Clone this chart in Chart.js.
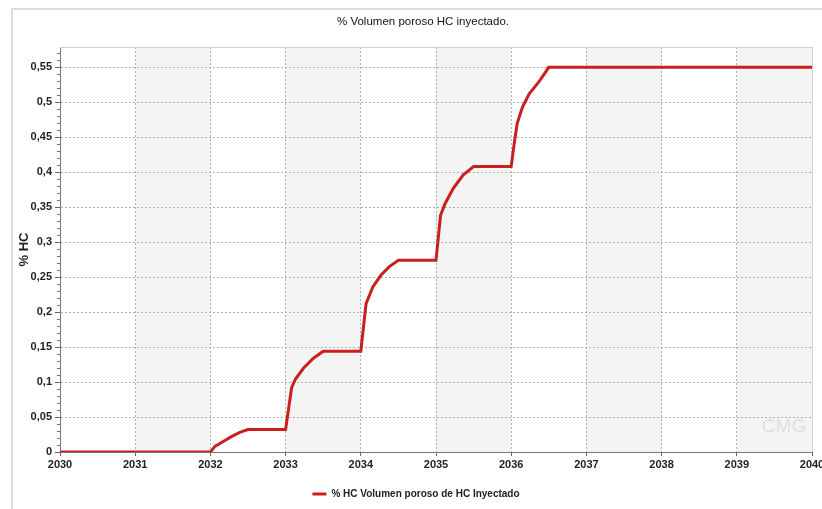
<!DOCTYPE html>
<html>
<head>
<meta charset="utf-8">
<script src="https://cdn.jsdelivr.net/npm/chart.js@4/dist/chart.umd.min.js"></script>
<style>
  html, body { margin: 0; padding: 0; background: #fff; overflow: hidden; }
  #wrap { position: relative; width: 822px; height: 509px; overflow: hidden; }
  #frame { position: absolute; left: 11px; top: 8px; width: 900px; height: 600px;
           border-left: 2px solid #dcdcdc; border-top: 2px solid #dcdcdc; }
  #c { position: absolute; left: 0; top: 0; }
</style>
</head>
<body>
<div id="wrap">
  <div id="frame"></div>
  <canvas id="c" width="840" height="509"></canvas>
</div>
<script>
// % HC Volumen poroso inyectado, 2030-2040
const TITLE = "% Volumen poroso HC inyectado.";
const SERIES_LABEL = "% HC Volumen poroso de HC Inyectado";
const Y_TITLE = "% HC";

const years = [2030, 2032, 2032.06, 2032.17, 2032.28, 2032.39, 2032.5,
  2033, 2033.08, 2033.13, 2033.24, 2033.37, 2033.5,
  2034, 2034.07, 2034.16, 2034.27, 2034.38, 2034.5,
  2035, 2035.06, 2035.12, 2035.23, 2035.36, 2035.5,
  2036, 2036.04, 2036.08, 2036.15, 2036.24, 2036.38, 2036.5, 2040];
const hcValues = [0, 0, 0.008, 0.015, 0.022, 0.028, 0.032,
  0.032, 0.092, 0.104, 0.12, 0.134, 0.144,
  0.144, 0.212, 0.236, 0.253, 0.265, 0.274,
  0.274, 0.338, 0.355, 0.377, 0.396, 0.408,
  0.408, 0.441, 0.47, 0.493, 0.512, 0.531, 0.55, 0.55];

// años con fondo gris (franjas alternas)
const shadedYears = [2031, 2033, 2035, 2037, 2039];

const SANS = '"Liberation Sans", Arial, sans-serif';

const bandsPlugin = {
  id: "bands",
  beforeDraw(chart) {
    const { ctx, chartArea: a, scales: { x } } = chart;
    ctx.save();
    ctx.fillStyle = "#f4f4f4";
    shadedYears.forEach(y0 => {
      const l = x.getPixelForValue(y0), r = x.getPixelForValue(y0 + 1);
      ctx.fillRect(l, a.top, r - l, a.bottom - a.top);
    });
    ctx.restore();
  },
  afterDraw(chart) {
    const { ctx, chartArea: a, scales: { y } } = chart;
    ctx.save();
    // borde superior y derecho del área
    ctx.strokeStyle = "#cfcfcf";
    ctx.lineWidth = 1;
    ctx.beginPath();
    ctx.moveTo(a.left, a.top + 0.5); ctx.lineTo(a.right + 0.5, a.top + 0.5);
    ctx.lineTo(a.right + 0.5, a.bottom);
    ctx.stroke();
    // marcas menores eje Y
    ctx.strokeStyle = "#777";
    ctx.beginPath();
    for (let i = 1; i <= 57; i++) {
      if (i % 5 === 0) continue;
      const py = Math.round(y.getPixelForValue(i / 100)) + 0.5;
      ctx.moveTo(a.left - 3, py); ctx.lineTo(a.left, py);
    }
    ctx.stroke();
    // título
    ctx.fillStyle = "#111";
    ctx.font = "11.5px " + SANS;
    ctx.textAlign = "center";
    ctx.textBaseline = "middle";
    ctx.fillText(TITLE, 423, 22);
    // marca de agua
    ctx.fillStyle = "#dedede";
    ctx.font = "19px " + SANS;
    ctx.fillText("CMG", a.right - 28, a.bottom - 25);
    ctx.restore();
  }
};

new Chart(document.getElementById("c"), {
  type: "line",
  data: {
    datasets: [{
      label: SERIES_LABEL,
      data: years.map((yr, i) => ({ x: yr, y: hcValues[i] })),
      borderColor: "#c8201f",
      backgroundColor: "#c8201f",
      borderWidth: 3,
      pointRadius: 0,
      tension: 0,
    }]
  },
  options: {
    responsive: false,
    animation: false,
    layout: { padding: { left: 20, right: 28, top: 47, bottom: 0 } },
    plugins: {
      title: { display: false },
      tooltip: { enabled: false },
      legend: {
        position: "bottom",
        labels: {
          usePointStyle: true, pointStyle: "line", pointStyleWidth: 14,
          color: "#222", padding: 10,
          font: { family: SANS, size: 10, weight: "bold" },
        }
      }
    },
    scales: {
      x: {
        type: "linear", min: 2030, max: 2040,
        afterFit: s => { s.height = 27; },
        ticks: {
          stepSize: 1, autoSkip: false, maxRotation: 0, padding: 2,
          color: "#222", font: { family: SANS, size: 11, weight: "bold" },
          callback: v => String(v),
        },
        grid: { color: "#b0b0b0", tickColor: "#666", tickLength: 4, tickBorderDash: [] },
        border: { color: "#777", width: 1, dash: [2, 2] },
      },
      y: {
        min: 0, max: 0.579,
        afterFit: s => { s.width = 40; },
        ticks: {
          stepSize: 0.05, includeBounds: false, padding: 3,
          color: "#222", font: { family: SANS, size: 11, weight: "bold" },
          callback: v => String(Math.round(v * 100) / 100).replace(".", ","),
        },
        grid: { color: "#b0b0b0", tickColor: "#666", tickLength: 5, tickBorderDash: [] },
        border: { color: "#777", width: 1, dash: [2, 2] },
        title: {
          display: true, text: Y_TITLE, color: "#222",
          padding: { top: -3, bottom: 0 },
          font: { family: SANS, size: 13, weight: "bold" },
        },
      }
    }
  },
  plugins: [bandsPlugin]
});
</script>
</body>
</html>
